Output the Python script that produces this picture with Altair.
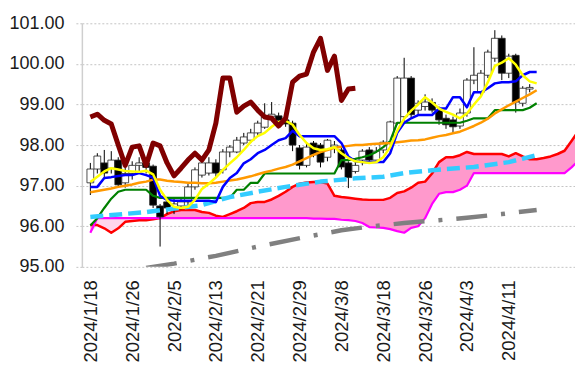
import altair as alt
import pandas as pd

# ---------------- data ----------------
tick_labels = ["2024/1/18", "2024/1/26", "2024/2/5", "2024/2/13", "2024/2/21", "2024/2/29",
               "2024/3/8", "2024/3/18", "2024/3/26", "2024/4/3", "2024/4/11"]
tick_idx = [0, 6, 12, 18, 24, 30, 36, 42, 48, 54, 60]

opens = [97.07, 97.41, 97.56, 97.43, 97.63, 97.07, 97.30, 97.50, 97.56, 97.48,
         96.50, 96.60, 96.45, 96.50, 96.60, 96.97, 97.26, 97.31, 97.56, 97.39,
         97.83, 97.83, 98.05, 98.12, 98.30, 98.44, 98.71, 98.72, 98.62, 98.54,
         97.93, 97.50, 98.05, 98.00, 97.70, 97.95, 97.88, 97.56, 97.35, 97.63,
         97.88, 97.63, 97.88, 98.05, 98.54, 98.70, 99.65, 98.86, 98.95, 99.05,
         98.85, 98.66, 98.62, 98.47, 98.79, 99.60, 99.30, 99.72, 100.14, 100.63,
         99.77, 100.21, 99.03, 99.38]
highs = [97.56, 97.80, 97.88, 97.85, 97.70, 97.45, 97.60, 97.70, 97.62, 97.52,
         96.55, 96.65, 96.68, 96.70, 97.05, 97.45, 97.62, 97.70, 97.65, 97.90,
         98.00, 98.20, 98.30, 98.40, 98.60, 99.03, 99.06, 98.80, 98.75, 98.60,
         98.00, 98.05, 98.10, 98.05, 98.15, 98.10, 97.95, 97.60, 97.60, 97.90,
         97.95, 97.95, 98.12, 98.60, 99.70, 100.15, 99.70, 99.10, 99.25, 99.15,
         98.95, 98.75, 98.70, 98.90, 99.65, 100.41, 99.85, 100.35, 100.83, 100.70,
         100.25, 100.25, 99.45, 99.50]
lows = [96.77, 97.30, 97.20, 97.30, 96.95, 96.95, 97.15, 97.35, 97.30, 96.45,
        95.50, 96.30, 96.30, 96.40, 96.50, 96.90, 97.20, 97.25, 97.20, 97.30,
        97.70, 97.80, 98.00, 98.05, 98.25, 98.40, 98.60, 98.50, 98.45, 97.85,
        97.40, 97.45, 97.70, 97.45, 97.60, 97.80, 97.40, 96.94, 97.30, 97.50,
        97.55, 97.60, 97.80, 98.00, 98.50, 98.60, 98.65, 98.75, 98.85, 98.80,
        98.50, 98.40, 98.30, 98.40, 98.70, 99.50, 99.20, 99.65, 100.05, 99.60,
        99.65, 98.80, 98.95, 99.30]
closes = [97.41, 97.73, 97.31, 97.63, 97.02, 97.30, 97.50, 97.56, 97.45, 96.52,
          96.23, 96.45, 96.55, 96.60, 96.97, 97.39, 97.56, 97.56, 97.31, 97.83,
          97.95, 98.12, 98.20, 98.30, 98.54, 98.69, 98.76, 98.61, 98.52, 98.00,
          97.50, 97.95, 97.76, 97.58, 98.12, 98.00, 97.46, 97.20, 97.50, 97.85,
          97.63, 97.85, 98.07, 98.57, 99.65, 99.65, 98.75, 99.03, 99.06, 98.86,
          98.62, 98.50, 98.45, 98.79, 99.60, 99.72, 99.77, 100.29, 100.63, 99.77,
          100.19, 99.06, 99.40, 99.42]

chikou = [98.69, 98.76, 98.61, 98.52, 98.00, 97.50, 97.95, 97.98, 97.50, 98.05,
          97.98, 97.56, 97.24, 97.43, 97.63, 97.80, 97.63, 97.88, 98.54, 99.65,
          99.65, 98.81, 98.96, 99.06, 98.86, 98.69, 98.66, 98.47, 98.66, 99.55,
          99.70, 99.75, 100.29, 100.63, 99.84, 100.19, 99.10, 99.38, 99.40]

yellow = [97.09, 97.22, 97.35, 97.43, 97.40, 97.36, 97.35, 97.34, 97.37, 97.28,
          96.90, 96.65, 96.48, 96.45, 96.48, 96.65, 96.92, 97.05, 97.20, 97.39,
          97.55, 97.70, 97.88, 98.08, 98.22, 98.30, 98.45, 98.57, 98.60, 98.50,
          98.25, 98.05, 97.92, 97.88, 97.90, 97.95, 97.80, 97.68, 97.60, 97.58,
          97.56, 97.58, 97.70, 97.95, 98.35, 98.65, 98.85, 99.00, 99.18, 99.05,
          98.90, 98.82, 98.75, 98.66, 98.78, 99.00, 99.20, 99.55, 99.95, 100.03,
          100.14, 99.98, 99.72, 99.57, 99.52]

tenkan = [96.97, 96.97, 97.19, 97.21, 97.24, 97.26, 97.26, 97.31, 97.26, 97.20,
          96.75, 96.65, 96.63, 96.63, 96.63, 96.63, 96.63, 96.63, 96.60, 96.97,
          97.19, 97.31, 97.55, 97.65, 97.80, 97.88, 98.00, 98.12, 98.17, 98.35,
          98.22, 98.22, 98.22, 98.22, 98.22, 98.22, 98.05, 97.72, 97.60, 97.58,
          97.58, 97.58, 97.58, 97.80, 98.30, 98.55, 98.66, 98.74, 98.74, 98.74,
          98.90, 98.90, 99.18, 99.18, 98.93, 99.30, 99.30, 99.40, 99.52, 99.55,
          99.55, 99.57, 99.72, 99.80, 99.80]

kijun = [96.02, 96.20, 96.45, 96.68, 96.85, 96.90, 96.90, 96.90, 96.90, 96.75,
         96.70, 96.70, 96.70, 96.70, 96.70, 96.70, 96.70, 96.70, 96.70, 96.70,
         96.70, 96.90, 96.90, 97.07, 97.07, 97.30, 97.30, 97.30, 97.30, 97.30,
         97.30, 97.30, 97.30, 97.30, 97.30, 97.30, 97.63, 97.63, 97.66, 97.70,
         97.75, 97.83, 97.95, 98.10, 98.55, 98.55, 98.55, 98.55, 98.55, 98.55,
         98.55, 98.55, 98.55, 98.55, 98.60, 98.66, 98.66, 98.66, 98.86, 98.86,
         98.86, 98.86, 98.86, 98.92, 99.03]

ma25 = [96.84, 96.87, 96.90, 96.93, 96.97, 97.00, 97.03, 97.07, 97.10, 97.15,
        97.15, 97.12, 97.10, 97.09, 97.07, 97.07, 97.06, 97.06, 97.07, 97.10,
        97.13, 97.15, 97.19, 97.23, 97.28, 97.33, 97.37, 97.42, 97.46, 97.52,
        97.60, 97.68, 97.76, 97.83, 97.88, 97.93, 97.96, 97.98, 98.00, 98.00,
        98.02, 98.03, 98.04, 98.05, 98.07, 98.09, 98.11, 98.12, 98.14, 98.18,
        98.22, 98.25, 98.29, 98.33, 98.40, 98.47, 98.55, 98.65, 98.78, 98.88,
        98.98, 99.07, 99.16, 99.25, 99.35]

cyan_idx = [0, 8, 16, 20, 24, 28, 33, 38, 42, 45, 49, 55, 60, 64]
cyan_val = [96.23, 96.35, 96.52, 96.72, 96.85, 96.97, 97.10, 97.18, 97.22, 97.31,
            97.38, 97.46, 97.58, 97.75]

gray_idx = [8, 12, 18, 24, 31, 36, 40, 45, 50, 54, 59, 64]
gray_val = [94.97, 95.08, 95.27, 95.50, 95.74, 95.90, 95.99, 96.08, 96.15, 96.21,
            96.30, 96.40]

span_a = [96.03, 96.03, 95.95, 95.84, 95.95, 96.11, 96.13, 96.15, 96.15, 96.17,
          96.20, 96.30, 96.37, 96.40, 96.40, 96.40, 96.35, 96.33, 96.26, 96.23,
          96.30, 96.37, 96.45, 96.57, 96.60, 96.60, 96.66, 96.75, 96.85, 96.97,
          97.05, 97.08, 97.09, 97.09, 97.05, 96.75, 96.72, 96.70, 96.68, 96.66,
          96.65, 96.65, 96.65, 96.70, 96.82, 96.86, 96.95, 97.07, 97.10, 97.30,
          97.58, 97.70, 97.70, 97.75, 97.83, 97.78, 97.78, 97.78, 97.78, 97.78,
          97.72, 97.80, 97.72, 97.65, 97.65, 97.68, 97.72, 97.78, 97.86, 98.10,
          98.35]
span_b = [95.84, 96.20, 96.20, 96.20, 96.20, 96.20, 96.20, 96.20, 96.20, 96.20,
          96.20, 96.20, 96.20, 96.20, 96.20, 96.20, 96.20, 96.20, 96.20, 96.20,
          96.20, 96.20, 96.20, 96.20, 96.20, 96.20, 96.20, 96.20, 96.20, 96.20,
          96.20, 96.20, 96.19, 96.19, 96.18, 96.18, 96.16, 96.15, 96.13, 96.08,
          95.98, 95.97, 95.96, 95.93, 95.88, 95.84, 95.96, 96.00, 96.20, 96.55,
          96.80, 96.84, 96.84, 96.90, 97.00, 97.31, 97.31, 97.31, 97.31, 97.31,
          97.31, 97.31, 97.31, 97.31, 97.31, 97.31, 97.31, 97.31, 97.31, 97.45,
          97.62]

# ---------------- encodings ----------------
FONT = "Liberation Sans"
label_js = "[" + ",".join("'%s'" % s for s in tick_labels) + "]"
xscale = alt.Scale(domain=[-0.5, 68.78], nice=False, zero=False)
yscale = alt.Scale(domain=[95, 101], nice=False, zero=False)
xaxis = alt.Axis(values=tick_idx, labelExpr=label_js + "[round(datum.value/6)]",
                 labelAngle=270, labelFontSize=18.5, labelFont=FONT, labelColor="#1a1a1a",
                 labelPadding=13, domain=False, ticks=False, grid=False, title=None)
yaxis = alt.Axis(values=[95, 96, 97, 98, 99, 100, 101], format=".2f", labelFontSize=18,
                 labelFont=FONT, labelColor="#1a1a1a", labelPadding=12, tickSize=6,
                 tickColor="#c4c4c4", tickDash=[2, 2], grid=True, gridColor="#c4c4c4",
                 gridDash=[2, 2], gridWidth=1, domain=True, domainColor="#cfcfcf",
                 domainWidth=1.5, title=None)


def X(f):
    return alt.X(f, type="quantitative", scale=xscale, axis=xaxis)


def Y(f):
    return alt.Y(f, type="quantitative", scale=yscale, axis=yaxis)


def line(idx, vals, color, width, dash=None):
    df = pd.DataFrame({"i": idx, "v": vals})
    kw = dict(color=color, strokeWidth=width, clip=True, strokeJoin="round")
    if dash:
        kw["strokeDash"] = dash
    return alt.Chart(df).mark_line(**kw).encode(x=X("i"), y=Y("v"))


# cloud
cloud = pd.DataFrame({"i": list(range(len(span_a))), "a": span_a, "b": span_b})
cbase = alt.Chart(cloud).transform_calculate(lo="min(datum.a, datum.b)")
cloud_pos = cbase.mark_area(color="#ff99cc", clip=True, opacity=1).encode(
    x=X("i"), y=Y("a"), y2=alt.Y2("lo"))
cloud_neg = cbase.mark_area(color="#ffd6ec", clip=True, opacity=1).encode(
    x=X("i"), y=Y("b"), y2=alt.Y2("lo"))

# candles
cdf = pd.DataFrame({"i": list(range(len(opens))), "o": opens, "h": highs,
                    "l": lows, "c": closes})
wick = alt.Chart(cdf).mark_rule(color="#000000", strokeWidth=1).encode(
    x=X("i"), y=Y("l"), y2=alt.Y2("h"))
body = alt.Chart(cdf).mark_bar(size=6.8, orient="vertical", stroke="#222222",
                               strokeWidth=0.8).encode(
    x=X("i"), y=Y("o"), y2=alt.Y2("c"),
    fill=alt.condition("datum.c >= datum.o", alt.value("#ffffff"), alt.value("#000000")))

n = len(yellow)
layers = [
    cloud_pos, cloud_neg,
    line(list(range(len(span_a))), span_a, "#ff0000", 2.5),
    line(list(range(len(span_b))), span_b, "#ff00ff", 2.2),
    wick, body,
    line(list(range(len(kijun))), kijun, "#008000", 2.2),
    line(list(range(len(ma25))), ma25, "#ff9900", 2.5),
    line(cyan_idx, cyan_val, "#33ccff", 4.5, [13, 6]),
    line(gray_idx, gray_val, "#808080", 4.5, [31, 14, 4, 14]),
    line(list(range(len(tenkan))), tenkan, "#0000ff", 2.5),
    line(list(range(n)), yellow, "#ffff00", 2.5),
    line(list(range(len(chikou))), chikou, "#800000", 5),
]

chart = alt.layer(*layers).properties(
    width=494, height=244,
    padding={"left": 0, "top": 6, "right": 0, "bottom": 0},
).configure_view(stroke=None)

chart.save("out.html", embed_options={"renderer": "svg", "actions": False})
